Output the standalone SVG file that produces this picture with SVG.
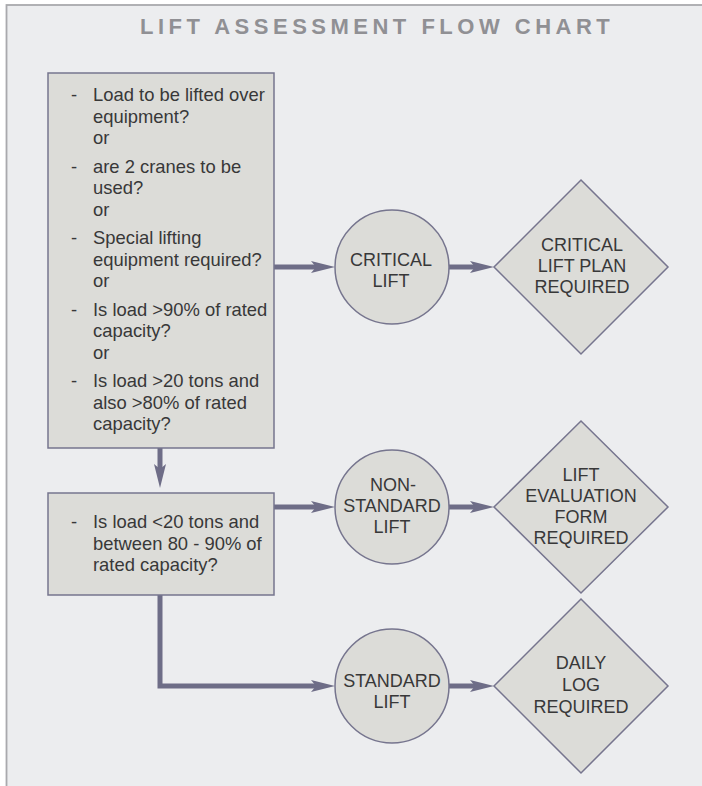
<svg xmlns="http://www.w3.org/2000/svg" width="702" height="786" viewBox="0 0 702 786">
<style>
.t{font-family:"Liberation Sans",Arial,sans-serif;font-size:18.4px;fill:#383838}
.c{font-family:"Liberation Sans",Arial,sans-serif;font-size:18px;fill:#383838;text-anchor:middle}
.title{font-family:"Liberation Sans",Arial,sans-serif;font-size:22px;font-weight:bold;fill:#909094;letter-spacing:4.5px}
.box{fill:#dcdcd8;stroke:#76758e;stroke-width:1.5}
.conn{fill:none;stroke:#6e6d87;stroke-width:5}
</style>
<defs>
<marker id="ah" viewBox="0 0 24 12" refX="6" refY="6" markerWidth="24" markerHeight="12" markerUnits="userSpaceOnUse" orient="auto">
<path d="M0,0 L24,6 L0,12 L5,6 Z" fill="#6e6d87"/>
</marker>
</defs>
<rect x="0" y="0" width="702" height="786" fill="#ffffff"/>
<rect x="6.5" y="5" width="710" height="800" fill="#ecedef" stroke="#a9a9ad" stroke-width="1.8"/>
<text class="title" x="140" y="34">LIFT ASSESSMENT FLOW CHART</text>

<g id="connectors">
<line class="conn" x1="274" y1="267" x2="317" y2="267" marker-end="url(#ah)"/>
<line class="conn" x1="449" y1="267" x2="476" y2="267" marker-end="url(#ah)"/>
<line class="conn" x1="160" y1="448" x2="160" y2="470" marker-end="url(#ah)"/>
<line class="conn" x1="274" y1="507" x2="317" y2="507" marker-end="url(#ah)"/>
<line class="conn" x1="449" y1="507" x2="476" y2="507" marker-end="url(#ah)"/>
<path class="conn" d="M160,595 V686 H317" marker-end="url(#ah)"/>
<line class="conn" x1="449" y1="686" x2="476" y2="686" marker-end="url(#ah)"/>
</g>

<g id="box1">
<rect class="box" x="48" y="73" width="226" height="375"/>
<text class="t" x="71" y="101">-</text>
<text class="t" x="93" y="101">Load to be lifted over</text>
<text class="t" x="93" y="122.5">equipment?</text>
<text class="t" x="93" y="144">or</text>
<text class="t" x="71" y="172.5">-</text>
<text class="t" x="93" y="172.5">are 2 cranes to be</text>
<text class="t" x="93" y="194">used?</text>
<text class="t" x="93" y="215.5">or</text>
<text class="t" x="71" y="244">-</text>
<text class="t" x="93" y="244">Special lifting</text>
<text class="t" x="93" y="265.5">equipment required?</text>
<text class="t" x="93" y="287">or</text>
<text class="t" x="71" y="315.5">-</text>
<text class="t" x="93" y="315.5">Is load &gt;90% of rated</text>
<text class="t" x="93" y="337">capacity?</text>
<text class="t" x="93" y="358.5">or</text>
<text class="t" x="71" y="387">-</text>
<text class="t" x="93" y="387">Is load &gt;20 tons and</text>
<text class="t" x="93" y="408.5">also &gt;80% of rated</text>
<text class="t" x="93" y="430">capacity?</text>
</g>

<g id="box2">
<rect class="box" x="48" y="493" width="226" height="102"/>
<text class="t" x="71" y="528">-</text>
<text class="t" x="93" y="528">Is load &lt;20 tons and</text>
<text class="t" x="93" y="549.5">between 80 - 90% of</text>
<text class="t" x="93" y="571">rated capacity?</text>
</g>

<g id="critical-lift">
<circle class="box" cx="392" cy="267" r="57"/>
<text class="c" x="391" y="266">CRITICAL</text>
<text class="c" x="391" y="287">LIFT</text>
</g>

<g id="critical-plan">
<polygon class="box" points="581,180 668,267 581,354 494,267"/>
<text class="c" x="582" y="251">CRITICAL</text>
<text class="c" x="582" y="272">LIFT PLAN</text>
<text class="c" x="582" y="292.5">REQUIRED</text>
</g>

<g id="non-standard-lift">
<circle class="box" cx="392" cy="507" r="57"/>
<text class="c" x="393" y="491">NON-</text>
<text class="c" x="392" y="512">STANDARD</text>
<text class="c" x="392" y="533">LIFT</text>
</g>

<g id="lift-evaluation">
<polygon class="box" points="581,421 668,507 581,593 494,507"/>
<text class="c" x="581" y="481">LIFT</text>
<text class="c" x="581" y="502">EVALUATION</text>
<text class="c" x="581" y="523">FORM</text>
<text class="c" x="581" y="544">REQUIRED</text>
</g>

<g id="standard-lift">
<circle class="box" cx="392" cy="686" r="57"/>
<text class="c" x="392" y="687">STANDARD</text>
<text class="c" x="392" y="708">LIFT</text>
</g>

<g id="daily-log">
<polygon class="box" points="581,599 668,686 581,773 494,686"/>
<text class="c" x="581" y="669">DAILY</text>
<text class="c" x="581" y="691">LOG</text>
<text class="c" x="581" y="713">REQUIRED</text>
</g>
</svg>
